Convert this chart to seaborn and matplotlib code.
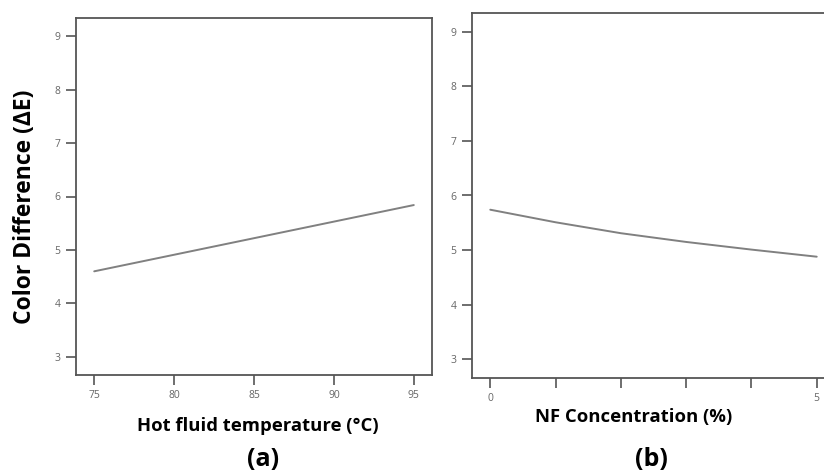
import matplotlib
matplotlib.use("Agg")
import matplotlib.pyplot as plt
import seaborn as sns
import pandas as pd

# panel (a): hot fluid temperature vs colour difference
temp_c = [75, 95]
delta_e_temp = [4.60, 5.84]

# panel (b): NF concentration vs colour difference
nf_conc = [0, 1, 2, 3, 4, 5]
delta_e_nf = [5.74, 5.51, 5.31, 5.15, 5.01, 4.88]

y_ticks = [3, 4, 5, 6, 7, 8, 9]
temp_ticks = [75, 80, 85, 90, 95]
nf_ticks = [0, 1, 2, 3, 4, 5]
nf_tick_labels = ["0", "", "", "", "", "5"]

sns.set_theme(style="white")
plt.rcParams['font.family'] = ['Open Sans', 'DejaVu Sans']

W, H = 824, 472
fig = plt.figure(figsize=(W / 100, H / 100), dpi=100)

def px_axes(x0, y0, x1, y1):
    return fig.add_axes([x0 / W, 1 - y1 / H, (x1 - x0) / W, (y1 - y0) / H])

ax_a = px_axes(76, 18, 432, 375)
ax_b = px_axes(472, 13, 835, 378)

df_a = pd.DataFrame({"temp": temp_c, "dE": delta_e_temp})
df_b = pd.DataFrame({"nf": nf_conc, "dE": delta_e_nf})

sns.lineplot(data=df_a, x="temp", y="dE", ax=ax_a, color="#808080", linewidth=1.4)
sns.lineplot(data=df_b, x="nf", y="dE", ax=ax_b, color="#808080", linewidth=1.4)

ax_a.set_xlim(73.86, 96.14)
ax_b.set_xlim(-0.28, 5.28)
for ax in (ax_a, ax_b):
    ax.set_ylim(2.66, 9.34)
    ax.set_yticks(y_ticks)
    for s in ax.spines.values():
        s.set_color("#555555")
        s.set_linewidth(1.3)
    ax.tick_params(axis="both", direction="out", length=7, width=1.2,
                   color="#555555", labelsize=7.5, labelcolor="#666666", pad=4,
                   left=True, bottom=True)
    ax.set_xlabel("")
    ax.set_ylabel("")

ax_a.set_xticks(temp_ticks)
ax_b.set_xticks(nf_ticks)
ax_b.set_xticklabels(nf_tick_labels)

fig.text(25 / W, 1 - 207 / H, "Color Difference (ΔE)", rotation=90,
         ha="center", va="center", fontsize=16.5, fontweight="bold", color="black")
fig.text(258 / W, 1 - 426 / H, "Hot fluid temperature (°C)",
         ha="center", va="center", fontsize=13.3, fontweight="bold", color="black")
fig.text(263 / W, 1 - 459 / H, "(a)",
         ha="center", va="center", fontsize=18, fontweight="bold", color="black")
fig.text(634 / W, 1 - 417 / H, "NF Concentration (%)",
         ha="center", va="center", fontsize=13.3, fontweight="bold", color="black")
fig.text(651 / W, 1 - 459 / H, "(b)",
         ha="center", va="center", fontsize=18, fontweight="bold", color="black")

fig.savefig("out.png", dpi=100, facecolor="white")
